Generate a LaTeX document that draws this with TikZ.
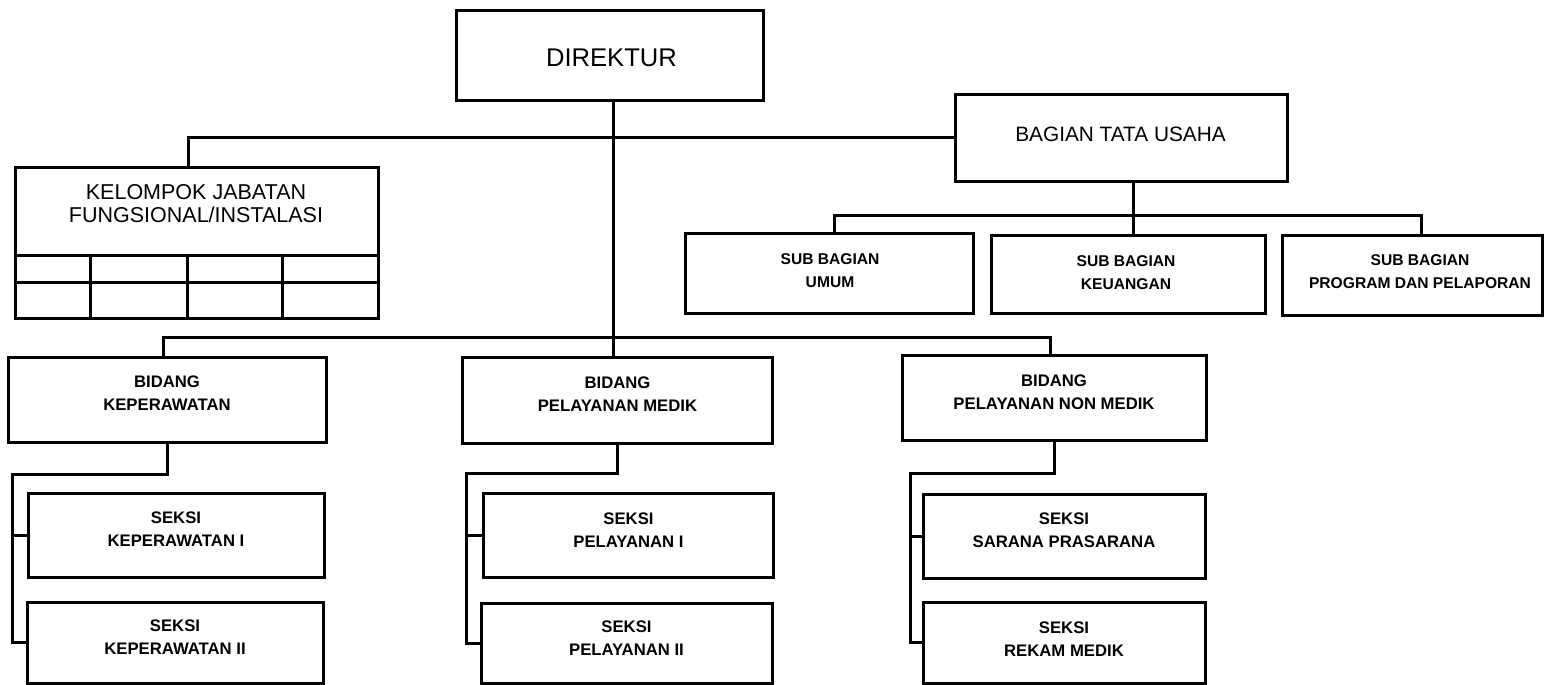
\documentclass[tikz,border=0pt]{standalone}
\usepackage{fontspec}
\setmainfont{Liberation Sans}
\usetikzlibrary{calc}
\begin{document}
\begin{tikzpicture}[x=0.5pt,y=-0.5pt,
  box/.style={draw, line width=1.5pt, outer sep=0pt, inner sep=0pt, rectangle},
  lnk/.style={line width=1.5pt},
  bigtxt/.style={align=center, inner sep=0pt, font=\fontsize{12.8}{14}\selectfont},
  midtxt/.style={align=center, inner sep=0pt, font=\fontsize{10.4}{11.4}\selectfont},
  keltxt/.style={align=center, inner sep=0pt, font=\fontsize{10.75}{11.4}\selectfont},
  subtxt/.style={align=center, inner sep=0pt, font=\bfseries\fontsize{7.8}{11.6}\selectfont},
  smalltxt/.style={align=center, inner sep=0pt, font=\bfseries\fontsize{8.35}{11.6}\selectfont}]
\useasboundingbox (0,0) rectangle (1547,685);
% boxes
\node[box, minimum width=153.5pt, minimum height=45pt] (dir) at (609.5,55) {};
\node[box, minimum width=181.5pt, minimum height=44pt] (kel) at (196.5,211) {};
\node[box, minimum width=181.5pt, minimum height=31.5pt] (keltab) at (196.5,286.5) {};
\node[box, minimum width=166pt, minimum height=43.5pt] (tu) at (1121,137.5) {};
\node[box, minimum width=144pt, minimum height=40pt] (umu) at (829,273) {};
\node[box, minimum width=137pt, minimum height=39pt] (keu) at (1128,274) {};
\node[box, minimum width=130pt, minimum height=40pt] (pro) at (1412,275) {};
\node[box, minimum width=159pt, minimum height=42.5pt] (kep) at (167,399.5) {};
\node[box, minimum width=155pt, minimum height=43pt] (med) at (617,400) {};
\node[box, minimum width=152pt, minimum height=42.5pt] (non) at (1054,397.5) {};
\node[box, minimum width=148pt, minimum height=42pt] (sk1) at (176,535) {};
\node[box, minimum width=148pt, minimum height=40.5pt] (sk2) at (175,642.5) {};
\node[box, minimum width=145pt, minimum height=42pt] (sm1) at (628,535) {};
\node[box, minimum width=145.5pt, minimum height=40pt] (sm2) at (626.5,643) {};
\node[box, minimum width=141pt, minimum height=42pt] (sn1) at (1064,536) {};
\node[box, minimum width=141pt, minimum height=40.5pt] (sn2) at (1064,642.5) {};
% texts
\node[bigtxt] (dirt) at (611.5,58) {DIREKTUR};
\node[keltxt] (kelt) at (196,203.5) {KELOMPOK JABATAN\\FUNGSIONAL/INSTALASI};
\node[midtxt] (tut) at (1120.5,134.5) {BAGIAN TATA USAHA};
\node[subtxt] (umut) at (830,271) {SUB BAGIAN\\UMUM};
\node[subtxt] (keut) at (1126,273) {SUB BAGIAN\\KEUANGAN};
\node[subtxt] (prot) at (1420,272) {SUB BAGIAN\\PROGRAM DAN PELAPORAN};
\node[smalltxt] (kept) at (167,393.5) {BIDANG\\KEPERAWATAN};
\node[smalltxt] (medt) at (617.5,394.5) {BIDANG\\PELAYANAN MEDIK};
\node[smalltxt] (nont) at (1054,392.5) {BIDANG\\PELAYANAN NON MEDIK};
\node[smalltxt] (sk1t) at (176,529.5) {SEKSI\\KEPERAWATAN I};
\node[smalltxt] (sk2t) at (175,637.5) {SEKSI\\KEPERAWATAN II};
\node[smalltxt] (sm1t) at (628.5,530) {SEKSI\\PELAYANAN I};
\node[smalltxt] (sm2t) at (626.5,638.5) {SEKSI\\PELAYANAN II};
\node[smalltxt] (sn1t) at (1064,530.5) {SEKSI\\SARANA PRASARANA};
\node[smalltxt] (sn2t) at (1064,639.5) {SEKSI\\REKAM MEDIK};
% table grid of kelompok
\draw[lnk] ($(keltab.north west)!0.444!(keltab.south west)$) -- ($(keltab.north east)!0.444!(keltab.south east)$);
\foreach \f in {0.207,0.474,0.738}
  \draw[lnk] ($(keltab.north west)!\f!(keltab.north east)$) -- ($(keltab.south west)!\f!(keltab.south east)$);
% junctions
\coordinate (bj) at (613,337);
\coordinate (sj) at (1133,215);
\coordinate (kx) at (12,474);
\coordinate (mx) at (466,473);
\coordinate (nx) at (910,473);
% connectors
\draw[lnk] ([xshift=-4.25pt]kel.north) |- (tu.west);
\draw[lnk] (dir.south -| bj) -- (bj |- med.north);
\draw[lnk] ([xshift=-2pt]kep.north) |- (bj) -| ([xshift=-2pt]non.north);
\draw[lnk] (tu.south -| sj) -- (sj |- keu.north);
\draw[lnk] ([xshift=2.5pt]umu.north) |- (sj) -| ([xshift=4.5pt]pro.north);
\draw[lnk] (kep.south) |- (kx) |- (sk2.west);
\draw[lnk] (kx |- sk1.west) -- (sk1.west);
\draw[lnk] (med.south) |- (mx) |- (sm2.west);
\draw[lnk] (mx |- sm1.west) -- (sm1.west);
\draw[lnk] (non.south) |- (nx) |- (sn2.west);
\draw[lnk] (nx |- sn1.west) -- (sn1.west);
\end{tikzpicture}
\end{document}
